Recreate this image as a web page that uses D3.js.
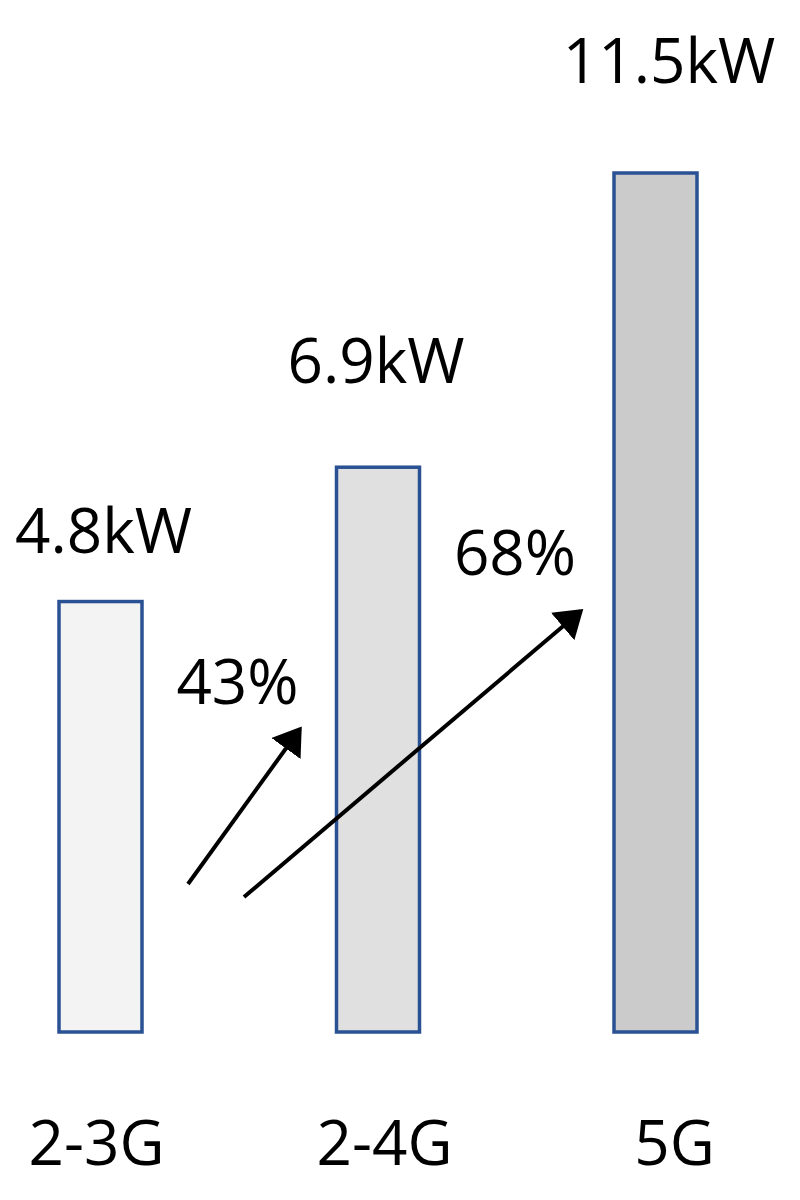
<!DOCTYPE html>
<html>
<head>
<meta charset="utf-8">
<script src="https://cdn.jsdelivr.net/npm/d3@7"></script>
<style>
  html, body { margin: 0; padding: 0; background: #fff; }
  svg { display: block; }
  text { font-family: "Open Sans", "Noto Sans", sans-serif; fill: #000; }
</style>
</head>
<body>
<svg id="chart" width="800" height="1200"></svg>
<script>
// ---- data ----
const categories = ["2-3G", "2-4G", "5G"];
const values = [4.8, 6.9, 11.5];
const valueLabels = ["4.8kW", "6.9kW", "11.5kW"];
const fills = ["#F3F3F3", "#E0E0E0", "#CBCBCB"];
const growthLabels = ["43%", "68%"];

// ---- layout ----
const W = 800, H = 1200;
const baseline = 1032;
const barWidth = 83;
const fontSize = 62;
const valueLabelOffsets = [49, 84, 90];   // gap between bar top and label baseline
const valueLabelShift = [3, -2, 13.5];
const catLabelShift = [-4, 6.5, 19];

const svg = d3.select("#chart");

const x = d3.scalePoint().domain(categories).range([100.5, 655.5]);
const y = d3.scaleLinear().domain([-1.93, 11.5]).range([baseline, 173]);

const data = categories.map((c, i) => ({ c, v: values[i], label: valueLabels[i], fill: fills[i], i }));

// bars
svg.selectAll("rect.bar").data(data).join("rect")
  .attr("class", "bar")
  .attr("x", d => x(d.c) - barWidth / 2)
  .attr("y", d => y(d.v))
  .attr("width", barWidth)
  .attr("height", d => baseline - y(d.v))
  .attr("fill", d => d.fill)
  .attr("stroke", "#2A5193")
  .attr("stroke-width", 3.5);

// value labels
svg.selectAll("text.val").data(data).join("text")
  .attr("class", "val")
  .attr("x", d => x(d.c) + valueLabelShift[d.i])
  .attr("y", d => y(d.v) - valueLabelOffsets[d.i])
  .attr("text-anchor", "middle")
  .attr("font-size", fontSize)
  .text(d => d.label);

// category labels
svg.selectAll("text.cat").data(data).join("text")
  .attr("class", "cat")
  .attr("x", d => x(d.c) + catLabelShift[d.i])
  .attr("y", 1165)
  .attr("text-anchor", "middle")
  .attr("font-size", fontSize)
  .text(d => d.c);

// arrows
const defs = svg.append("defs");
defs.append("marker")
  .attr("id", "arrowhead")
  .attr("viewBox", "0 0 27 36")
  .attr("refX", 24).attr("refY", 18)
  .attr("markerWidth", 27).attr("markerHeight", 36)
  .attr("markerUnits", "userSpaceOnUse")
  .attr("orient", "auto")
  .append("path")
  .attr("d", "M0,0 L27,18 L0,36 Z")
  .attr("fill", "#000");

const arrows = [
  { x1: 188, y1: 884, x2: 300, y2: 729, label: growthLabels[0], lx: 237.5, ly: 704 },
  { x1: 244, y1: 897, x2: 581, y2: 611, label: growthLabels[1], lx: 515, ly: 575 }
];

svg.selectAll("line.arrow").data(arrows).join("line")
  .attr("class", "arrow")
  .attr("x1", d => d.x1).attr("y1", d => d.y1)
  .attr("x2", d => d.x2).attr("y2", d => d.y2)
  .attr("stroke", "#000")
  .attr("stroke-width", 4)
  .attr("marker-end", "url(#arrowhead)");

svg.selectAll("text.growth").data(arrows).join("text")
  .attr("class", "growth")
  .attr("x", d => d.lx)
  .attr("y", d => d.ly)
  .attr("text-anchor", "middle")
  .attr("font-size", fontSize)
  .text(d => d.label);
</script>
</body>
</html>
